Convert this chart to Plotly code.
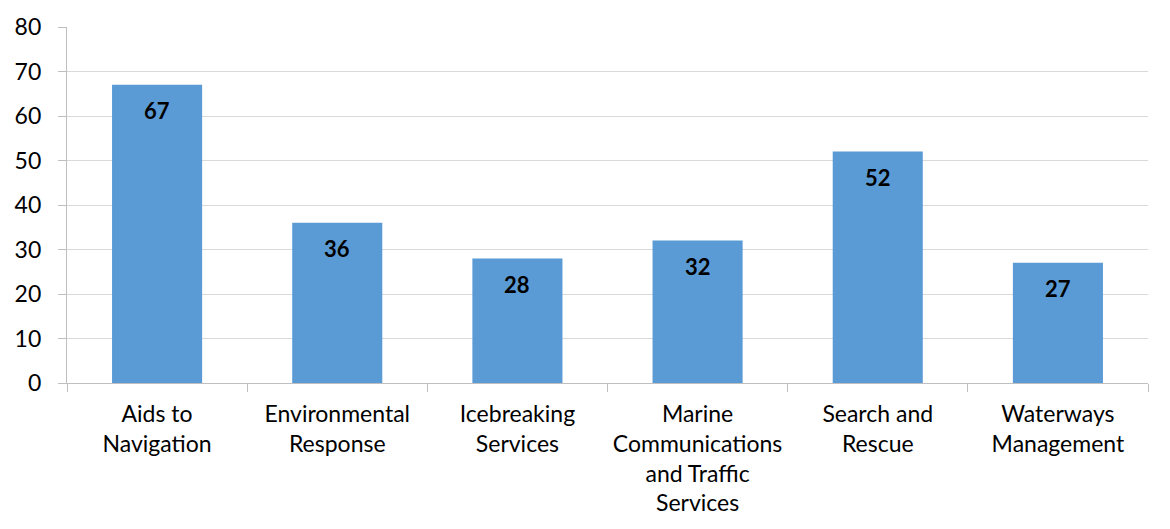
import plotly.graph_objects as go

categories = ["Aids to<br>Navigation", "Environmental<br>Response", "Icebreaking<br>Services",
              "Marine<br>Communications<br>and Traffic<br>Services", "Search and<br>Rescue",
              "Waterways<br>Management"]
values = [67, 36, 28, 32, 52, 27]
y_ticks = [0, 10, 20, 30, 40, 50, 60, 70, 80]

FONT = "Lato"
fig = go.Figure()
fig.add_trace(go.Bar(x=categories, y=values, marker=dict(color="#5b9bd5", line=dict(width=0)),
                     hoverinfo="skip"))
for c, v in zip(categories, values):
    fig.add_annotation(x=c, y=v, text="<b>%d</b>" % v, showarrow=False, yanchor="middle",
                       yshift=-26, font=dict(family=FONT, size=22, color="#000000"))

fig.update_layout(
    width=1170, height=529,
    margin=dict(l=59, r=30, t=19, b=154),
    plot_bgcolor="white", paper_bgcolor="white",
    bargap=0.5, showlegend=False,
    font=dict(family=FONT, size=23, color="#000000"),
)
fig.update_xaxes(showline=True, linecolor="#bfbfbf", linewidth=1.3, ticks="outside",
                 tickson="boundaries", ticklen=8, tickcolor="#bfbfbf", showgrid=False,
                 automargin=False, ticklabelstandoff=10,
                 tickfont=dict(family=FONT, size=23, color="#000000"))
fig.update_yaxes(range=[0, 80], tickvals=y_ticks, showline=True, linecolor="#bfbfbf",
                 linewidth=1.3, ticks="outside", ticklen=8, tickcolor="#bfbfbf",
                 gridcolor="#d9d9d9", gridwidth=1.3, zeroline=False, ticklabelstandoff=12,
                 automargin=False,
                 tickfont=dict(family=FONT, size=23, color="#000000"))

fig.write_html("out.html")
